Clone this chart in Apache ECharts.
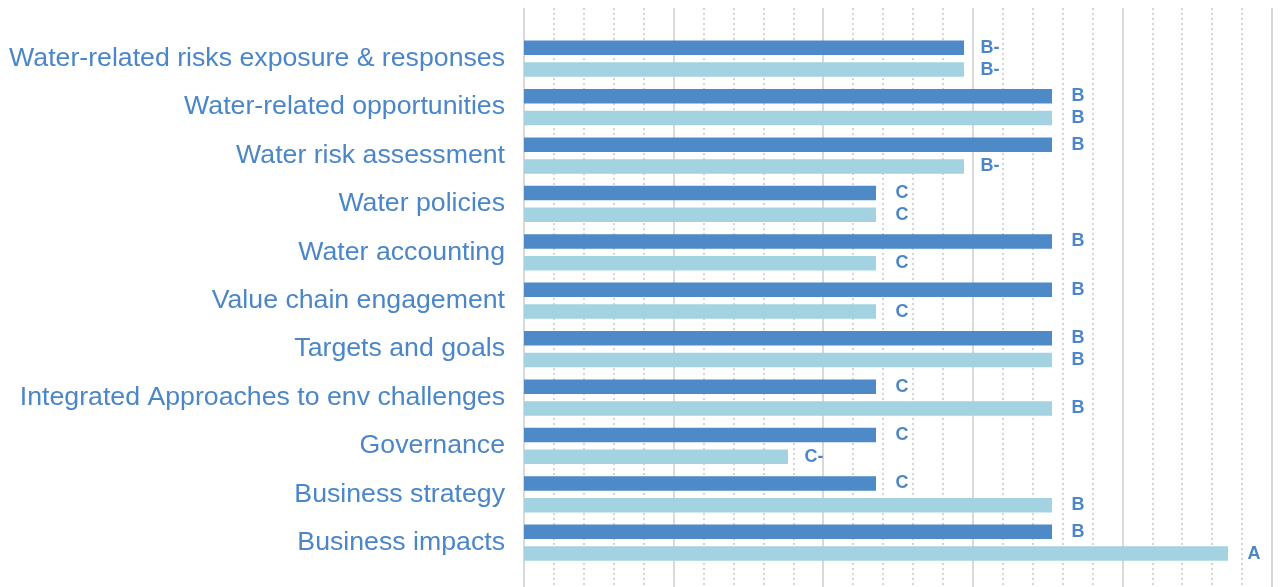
<!DOCTYPE html>
<html>
<head>
<meta charset="utf-8">
<script src="https://cdn.jsdelivr.net/npm/echarts@6/dist/echarts.min.js"></script>
<style>
html,body{margin:0;padding:0;background:#fff;}
#chart{width:1281px;height:587px;}
</style>
</head>
<body>
<div id="chart"></div>
<script>
// Categories listed bottom to top (ECharts category y axis starts at bottom)
var categories = [
  "Business impacts",
  "Business strategy",
  "Governance",
  "Integrated Approaches to env challenges",
  "Targets and goals",
  "Value chain engagement",
  "Water accounting",
  "Water policies",
  "Water risk assessment",
  "Water-related opportunities",
  "Water-related risks exposure & responses"
];
// Grade scores: C- = 3, C = 4, B- = 5, B = 6, A- = 7, A = 8
var gradeNames = {1: "D-", 2: "D", 3: "C-", 4: "C", 5: "B-", 6: "B", 7: "A-", 8: "A"};
var seriesDark = [6, 4, 4, 4, 6, 6, 6, 4, 6, 6, 5];
var seriesLight = [8, 6, 3, 6, 6, 4, 4, 4, 5, 6, 5];

var textColor = "#4a86c8";
var font = "'Liberation Sans', Arial, sans-serif";

var chart = echarts.init(document.getElementById('chart'));

function labelCfg() {
  return {
    show: true,
    position: 'right',
    distance: 26,
    align: 'center',
    fontFamily: font,
    fontSize: 18,
    fontWeight: 'bold',
    color: textColor,
    formatter: function (p) { return gradeNames[p.value]; }
  };
}

chart.setOption({
  animation: false,
  backgroundColor: '#ffffff',
  grid: [
    {left: 524, width: 748, top: 34.5, height: 532.4, containLabel: false},
    {left: 524, width: 748, top: 8, bottom: -10, containLabel: false}
  ],
  xAxis: [
    {
      gridIndex: 0, type: 'value', min: 0, max: 8.5, interval: 1.7,
      axisLine: {show: false}, axisTick: {show: false}, axisLabel: {show: false},
      splitLine: {show: false}
    },
    {
      gridIndex: 1, type: 'value', min: 0, max: 8.5, interval: 1.7,
      axisLine: {show: false}, axisTick: {show: false}, axisLabel: {show: false},
      splitLine: {show: true, lineStyle: {color: '#d9d9d9', width: 2}},
      minorTick: {show: false, splitNumber: 5},
      minorSplitLine: {show: true, lineStyle: {color: '#d4d4d4', width: 2, type: [2, 3]}}
    }
  ],
  yAxis: [
    {
      gridIndex: 0, type: 'category', data: categories,
      axisLine: {show: false}, axisTick: {show: false},
      axisLabel: {margin: 19, fontFamily: font, fontSize: 26.7, color: textColor},
      splitLine: {show: false}
    },
    {
      gridIndex: 1, type: 'value', min: 0, max: 1,
      axisLine: {show: true, lineStyle: {color: '#d9d9d9', width: 1}},
      axisTick: {show: false}, axisLabel: {show: false}, splitLine: {show: false}
    }
  ],
  series: [
    {
      name: 'Dark', type: 'bar', xAxisIndex: 0, yAxisIndex: 0,
      data: seriesDark, barWidth: 14.5, barGap: '50%',
      itemStyle: {color: '#4e89c8'},
      label: labelCfg()
    },
    {
      name: 'Light', type: 'bar', xAxisIndex: 0, yAxisIndex: 0,
      data: seriesLight, barWidth: 14.5, barGap: '50%',
      itemStyle: {color: '#a3d3e1'},
      label: labelCfg()
    }
  ]
});
</script>
</body>
</html>
